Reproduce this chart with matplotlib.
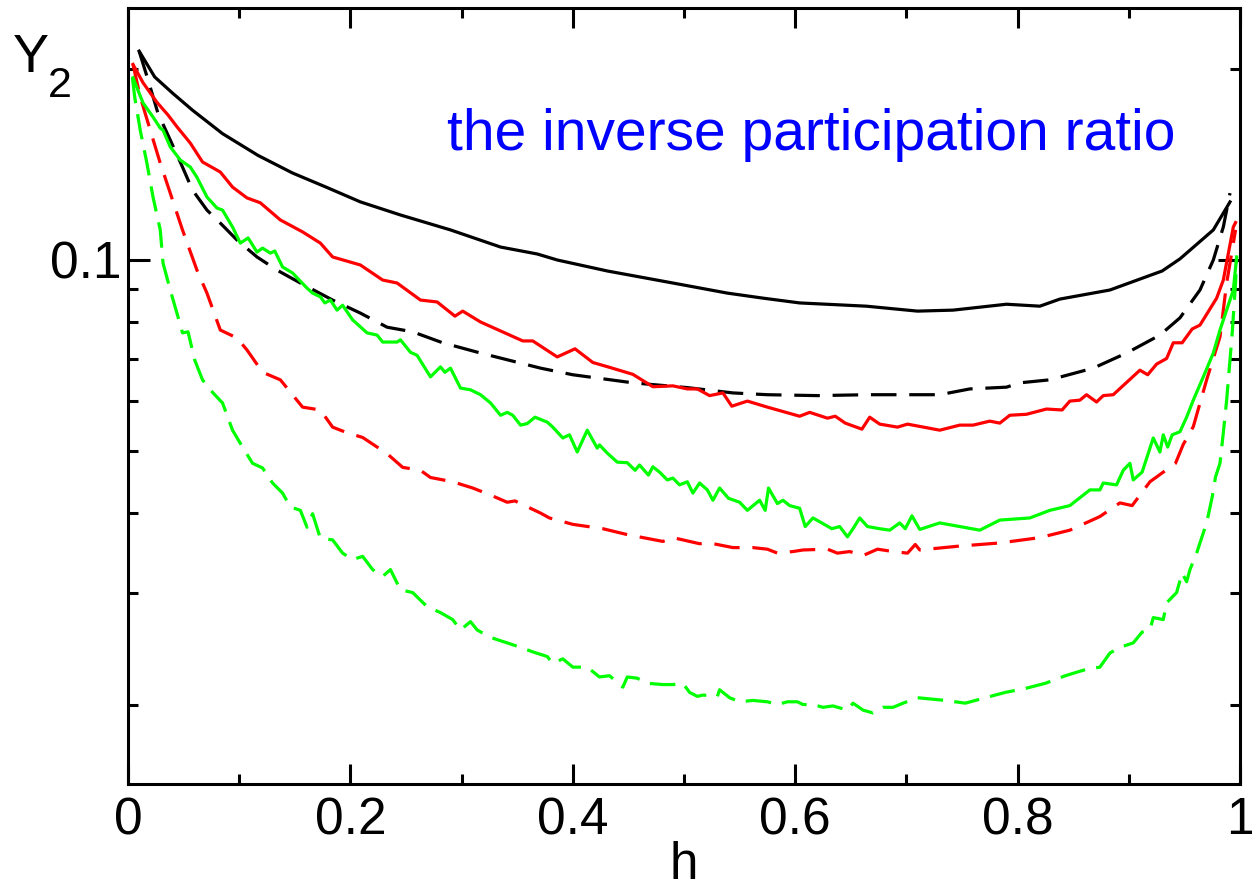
import matplotlib
matplotlib.use('Agg')
import matplotlib.pyplot as plt
from matplotlib.ticker import FixedLocator, NullFormatter

plt.rcParams['font.family'] = ['Liberation Sans', 'DejaVu Sans']

# black solid
bs_h = [0.010, 0.024, 0.040, 0.058, 0.085, 0.117, 0.148, 0.179, 0.209, 0.245,
        0.290, 0.335, 0.368, 0.386, 0.431, 0.490, 0.539, 0.571, 0.604, 0.664,
        0.710, 0.742, 0.790, 0.820, 0.838, 0.883, 0.930, 0.946, 0.976, 0.991]
bs_y = [0.213, 0.194, 0.183, 0.172, 0.158, 0.146, 0.137, 0.130, 0.1234, 0.1177,
        0.1115, 0.1048, 0.1022, 0.1000, 0.0961, 0.0920, 0.0887, 0.0871, 0.0856, 0.0846,
        0.0831, 0.0834, 0.0852, 0.0846, 0.0868, 0.0897, 0.0961, 0.1004, 0.1115, 0.1234]

# black dashed
bd_h = [0.010, 0.018, 0.027, 0.038, 0.049, 0.058, 0.071, 0.083, 0.098, 0.116,
        0.134, 0.155, 0.184, 0.209, 0.233, 0.256, 0.283, 0.317, 0.371, 0.400,
        0.454, 0.503, 0.544, 0.575, 0.620, 0.665, 0.730, 0.757, 0.790, 0.802,
        0.829, 0.868, 0.898, 0.928, 0.946, 0.964, 0.976, 0.985, 0.991]
bd_y = [0.213, 0.192, 0.170, 0.1544, 0.140, 0.1288, 0.1198, 0.1143, 0.1075, 0.1011,
        0.0964, 0.0920, 0.0865, 0.0825, 0.0784, 0.0771, 0.0741, 0.0714, 0.0676, 0.0660,
        0.0641, 0.0630, 0.0618, 0.0614, 0.0612, 0.0614, 0.0614, 0.0627, 0.0631, 0.0641,
        0.0648, 0.0676, 0.0714, 0.0762, 0.0811, 0.0897, 0.1000, 0.1127, 0.1274]

# red solid
rs_h = [0.0045, 0.0135, 0.026, 0.036, 0.044, 0.056, 0.067, 0.083, 0.094, 0.107,
        0.119, 0.137, 0.157, 0.173, 0.184, 0.209, 0.229, 0.242, 0.263, 0.278,
        0.294, 0.301, 0.317, 0.355, 0.364, 0.386, 0.402, 0.418, 0.433, 0.454,
        0.472, 0.490, 0.503, 0.512, 0.523, 0.535, 0.543, 0.557, 0.575, 0.604,
        0.613, 0.629, 0.636, 0.645, 0.660, 0.667, 0.676, 0.692, 0.701, 0.730,
        0.748, 0.760, 0.775, 0.784, 0.793, 0.808, 0.826, 0.840, 0.847, 0.856,
        0.862, 0.871, 0.877, 0.886, 0.910, 0.917, 0.925, 0.934, 0.940, 0.948,
        0.957, 0.964, 0.979, 0.985, 0.994, 0.996]
rs_y = [0.203, 0.190, 0.177, 0.169, 0.162, 0.1527, 0.1426, 0.1375, 0.1302, 0.1252,
        0.1230, 0.1156, 0.1107, 0.1063, 0.1011, 0.0982, 0.0930, 0.0920, 0.0865, 0.0859,
        0.0816, 0.0831, 0.0799, 0.0746, 0.0746, 0.0704, 0.0725, 0.0690, 0.0678, 0.0661,
        0.0632, 0.0634, 0.0627, 0.0627, 0.0612, 0.0618, 0.0589, 0.0600, 0.0587, 0.0568,
        0.0576, 0.0564, 0.0568, 0.0554, 0.0542, 0.0566, 0.0552, 0.0546, 0.0552, 0.0540,
        0.0550, 0.0550, 0.0558, 0.0554, 0.0570, 0.0572, 0.0583, 0.0581, 0.0600, 0.0602,
        0.0614, 0.0598, 0.0612, 0.0614, 0.0671, 0.0660, 0.0686, 0.0700, 0.0741, 0.0741,
        0.0779, 0.0790, 0.0871, 0.0930, 0.1127, 0.1145]

# red dashed
rd_h = [0.0045, 0.011, 0.020, 0.029, 0.038, 0.049, 0.062, 0.071, 0.083, 0.098,
        0.107, 0.121, 0.137, 0.157, 0.173, 0.184, 0.197, 0.211, 0.233, 0.247,
        0.263, 0.272, 0.292, 0.310, 0.326, 0.341, 0.348, 0.371, 0.379, 0.400,
        0.427, 0.449, 0.481, 0.490, 0.514, 0.523, 0.544, 0.562, 0.575, 0.584,
        0.598, 0.607, 0.629, 0.638, 0.649, 0.661, 0.674, 0.688, 0.701, 0.708,
        0.712, 0.748, 0.784, 0.820, 0.847, 0.874, 0.892, 0.903, 0.919, 0.942,
        0.949, 0.958, 0.970, 0.982, 0.988, 0.996]
rd_y = [0.203, 0.1805, 0.160, 0.1420, 0.1274, 0.1115, 0.0964, 0.0887, 0.0776, 0.0754,
        0.0722, 0.0666, 0.0648, 0.0587, 0.0581, 0.0546, 0.0535, 0.0526, 0.0496, 0.0472,
        0.0467, 0.0455, 0.0448, 0.0438, 0.0427, 0.0416, 0.0418, 0.0400, 0.0393, 0.0384,
        0.0378, 0.0370, 0.0361, 0.0366, 0.0358, 0.0359, 0.0353, 0.0353, 0.0351, 0.0346,
        0.0348, 0.0350, 0.0351, 0.0346, 0.0348, 0.0343, 0.0351, 0.0348, 0.0346, 0.0357,
        0.0350, 0.0355, 0.0359, 0.0366, 0.0376, 0.0395, 0.0415, 0.0411, 0.0448, 0.0479,
        0.0513, 0.0547, 0.0648, 0.0757, 0.0920, 0.1115]

# green solid
gs_h = [0.0045, 0.0135, 0.0225, 0.029, 0.0315, 0.038, 0.047, 0.056, 0.062, 0.071,
        0.080, 0.085, 0.094, 0.101, 0.108, 0.116, 0.121, 0.128, 0.132, 0.139,
        0.148, 0.161, 0.166, 0.173, 0.177, 0.182, 0.188, 0.193, 0.202, 0.215,
        0.224, 0.229, 0.242, 0.245, 0.254, 0.260, 0.272, 0.281, 0.285, 0.290,
        0.299, 0.308, 0.317, 0.326, 0.335, 0.341, 0.346, 0.353, 0.359, 0.366,
        0.377, 0.382, 0.391, 0.397, 0.404, 0.413, 0.422, 0.424, 0.431, 0.440,
        0.449, 0.456, 0.460, 0.468, 0.472, 0.478, 0.485, 0.490, 0.496, 0.503,
        0.508, 0.514, 0.521, 0.526, 0.532, 0.540, 0.550, 0.557, 0.568, 0.573,
        0.576, 0.584, 0.589, 0.595, 0.604, 0.609, 0.616, 0.625, 0.633, 0.640,
        0.647, 0.652, 0.658, 0.665, 0.676, 0.685, 0.694, 0.699, 0.705, 0.712,
        0.730, 0.748, 0.766, 0.784, 0.811, 0.829, 0.847, 0.865, 0.874, 0.877,
        0.889, 0.895, 0.901, 0.904, 0.912, 0.922, 0.928, 0.931, 0.935, 0.939,
        0.946, 0.952, 0.958, 0.967, 0.976, 0.982, 0.988, 0.994, 0.997]
gs_y = [0.1934, 0.1766, 0.1678, 0.1612, 0.1600, 0.1506, 0.1436, 0.1400, 0.1349, 0.1256,
        0.1207, 0.1198, 0.1127, 0.1063, 0.1083, 0.1029, 0.1044, 0.1025, 0.1033, 0.0975,
        0.0954, 0.0903, 0.0887, 0.0875, 0.0856, 0.0865, 0.0834, 0.0849, 0.0805, 0.0768,
        0.0762, 0.0743, 0.0743, 0.0749, 0.0716, 0.0708, 0.0655, 0.0679, 0.0666, 0.0676,
        0.0629, 0.0625, 0.0614, 0.0596, 0.0570, 0.0576, 0.0570, 0.0550, 0.0553, 0.0566,
        0.0556, 0.0546, 0.0525, 0.0531, 0.0499, 0.0540, 0.0506, 0.0512, 0.0497, 0.0481,
        0.0480, 0.0467, 0.0476, 0.0459, 0.0473, 0.0464, 0.0451, 0.0454, 0.0443, 0.0448,
        0.0430, 0.0446, 0.0435, 0.0419, 0.0438, 0.0422, 0.0416, 0.0404, 0.0419, 0.0404,
        0.0438, 0.0414, 0.0419, 0.0411, 0.0407, 0.0381, 0.0393, 0.0385, 0.0378, 0.0381,
        0.0367, 0.0378, 0.0393, 0.0381, 0.0378, 0.0376, 0.0386, 0.0378, 0.0396, 0.0377,
        0.0386, 0.0381, 0.0376, 0.0390, 0.0393, 0.0404, 0.0411, 0.0435, 0.0435, 0.0446,
        0.0443, 0.0467, 0.0479, 0.0451, 0.0464, 0.0525, 0.0499, 0.0531, 0.0508, 0.0531,
        0.0537, 0.0566, 0.0602, 0.0655, 0.0714, 0.0776, 0.0834, 0.0897, 0.1011]

# green dashed
gd_h = [0.004, 0.006, 0.011, 0.017, 0.0225, 0.029, 0.0315, 0.038, 0.044, 0.049,
        0.054, 0.060, 0.067, 0.074, 0.078, 0.085, 0.094, 0.103, 0.112, 0.121,
        0.130, 0.139, 0.146, 0.155, 0.161, 0.166, 0.173, 0.184, 0.193, 0.202,
        0.211, 0.220, 0.229, 0.236, 0.245, 0.256, 0.269, 0.281, 0.292, 0.299,
        0.308, 0.314, 0.326, 0.341, 0.353, 0.364, 0.377, 0.382, 0.391, 0.400,
        0.413, 0.424, 0.433, 0.445, 0.449, 0.458, 0.467, 0.481, 0.490, 0.499,
        0.505, 0.512, 0.517, 0.530, 0.532, 0.541, 0.550, 0.562, 0.575, 0.584,
        0.593, 0.602, 0.607, 0.616, 0.625, 0.634, 0.647, 0.652, 0.661, 0.670,
        0.679, 0.688, 0.697, 0.710, 0.735, 0.753, 0.771, 0.789, 0.807, 0.825,
        0.843, 0.861, 0.874, 0.883, 0.892, 0.904, 0.912, 0.919, 0.922, 0.931,
        0.934, 0.943, 0.948, 0.952, 0.955, 0.961, 0.964, 0.970, 0.975, 0.978,
        0.982, 0.985, 0.988, 0.993, 0.996, 0.997]
gd_y = [0.1934, 0.1805, 0.160, 0.1420, 0.1256, 0.1115, 0.0989, 0.0897, 0.0825, 0.0768,
        0.0771, 0.0696, 0.0648, 0.0625, 0.0614, 0.0596, 0.0540, 0.0508, 0.0479, 0.0471,
        0.0446, 0.0430, 0.0409, 0.0404, 0.0380, 0.0399, 0.0365, 0.0363, 0.0346, 0.0338,
        0.0342, 0.0326, 0.0318, 0.0326, 0.0303, 0.0300, 0.0285, 0.0279, 0.0272, 0.0262,
        0.0270, 0.0262, 0.0255, 0.0250, 0.0246, 0.0242, 0.0238, 0.0232, 0.0236, 0.0229,
        0.0229, 0.0221, 0.0222, 0.0213, 0.0221, 0.0220, 0.0216, 0.0215, 0.0215, 0.0216,
        0.0209, 0.0206, 0.0207, 0.0206, 0.0211, 0.0205, 0.0202, 0.0203, 0.0202, 0.0200,
        0.0202, 0.0202, 0.0200, 0.0200, 0.0198, 0.0199, 0.0196, 0.0201, 0.0196, 0.0194,
        0.0198, 0.0198, 0.0201, 0.0205, 0.0203, 0.0201, 0.0205, 0.0209, 0.0212, 0.0216,
        0.0222, 0.0227, 0.0229, 0.0241, 0.0246, 0.0250, 0.0260, 0.0262, 0.0274, 0.0272,
        0.0289, 0.0300, 0.0322, 0.0312, 0.0326, 0.0346, 0.0359, 0.0386, 0.0424, 0.0456,
        0.0479, 0.0535, 0.0602, 0.0768, 0.0920, 0.1011]

x_ticks = [0, 0.2, 0.4, 0.6, 0.8, 1.0]
x_labels = ['0', '0.2', '0.4', '0.6', '0.8', '1']
y_minor = [0.02, 0.03, 0.04, 0.05, 0.06, 0.07, 0.08, 0.09, 0.2]

fig = plt.figure(figsize=(12.52, 8.93), dpi=100)
ax = fig.add_axes([128 / 1252, 1 - 784 / 893, 1112 / 1252, 776 / 893])

lw = 2.3
ax.plot(bs_h, bs_y, color='black', lw=lw)
ax.plot(bd_h, bd_y, color='black', lw=lw, dashes=(8, 4))
ax.plot(rs_h, rs_y, color='#ff0000', lw=lw)
ax.plot(rd_h, rd_y, color='#ff0000', lw=lw, dashes=(8, 4))
ax.plot(gs_h, gs_y, color='#00ff00', lw=lw)
ax.plot(gd_h, gd_y, color='#00ff00', lw=lw, dashes=(8, 3.5))

ax.set_xlim(0, 1)
ax.set_yscale('log')
ax.set_ylim(0.0150, 0.249)

ax.xaxis.set_major_locator(FixedLocator(x_ticks))
ax.set_xticklabels(x_labels)
ax.xaxis.set_minor_locator(FixedLocator([0.1, 0.3, 0.5, 0.7, 0.9]))
ax.yaxis.set_major_locator(FixedLocator([0.1]))
ax.set_yticklabels(['0.1'])
ax.yaxis.set_minor_locator(FixedLocator(y_minor))
ax.yaxis.set_minor_formatter(NullFormatter())

for s in ax.spines.values():
    s.set_linewidth(2.2)
ax.tick_params(which='both', direction='in', top=True, right=True, width=2.2, labelsize=37)
ax.tick_params(axis='x', which='major', length=14.5, pad=9)
ax.tick_params(axis='y', which='major', length=15.5, pad=5)
ax.tick_params(which='minor', length=7.2)

ax.set_xlabel('h', fontsize=37, labelpad=-3)

fig.text(13 / 1252, 1 - 72 / 893, 'Y', fontsize=39, ha='left', va='baseline')
fig.text(48 / 1252, 1 - 97 / 893, '2', fontsize=31, ha='left', va='baseline')
fig.text(447 / 1252, 1 - 150 / 893, 'the inverse participation ratio', fontsize=41,
         color='#0000ff', ha='left', va='baseline')

fig.savefig('out.png', dpi=100)
